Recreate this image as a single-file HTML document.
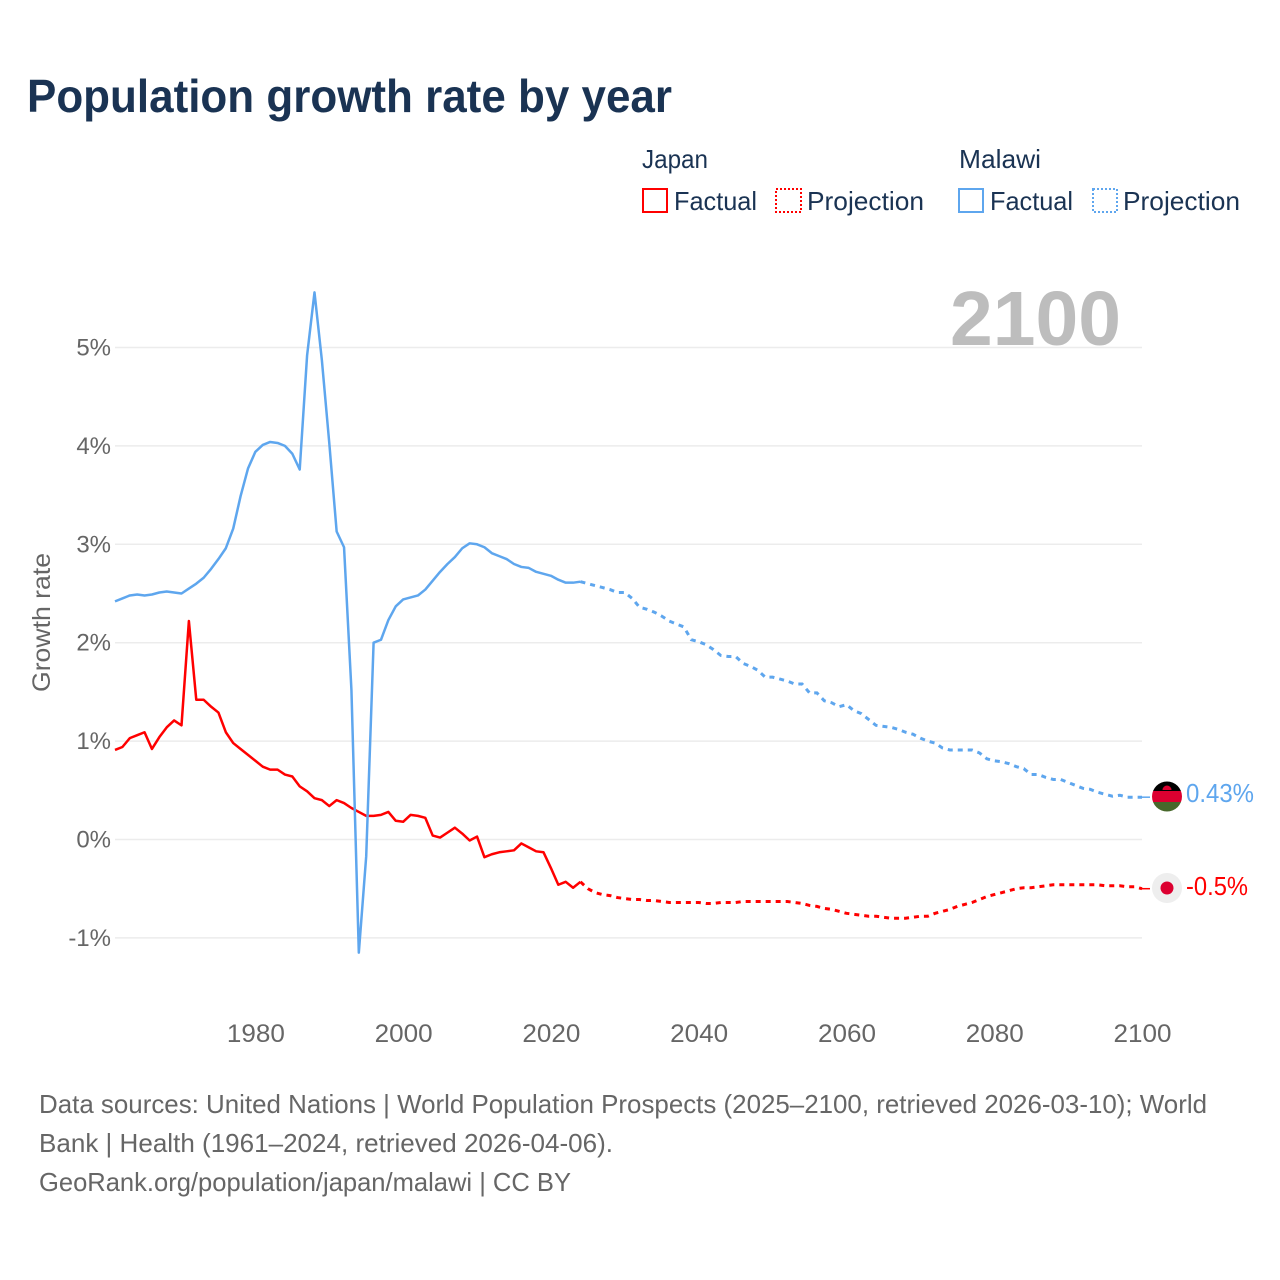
<!DOCTYPE html>
<html lang="en">
<head>
<meta charset="utf-8">
<title>Population growth rate by year</title>
<style>
  html, body { margin: 0; padding: 0; background: #ffffff; }
  svg { display: block; font-family: "Liberation Sans", sans-serif; }
</style>
</head>
<body>
<svg id="chart" width="1280" height="1280" viewBox="0 0 1280 1280" xmlns="http://www.w3.org/2000/svg">
  <defs>
    <clipPath id="flag-clip"><circle cx="1167" cy="796.5" r="15"></circle></clipPath>
  </defs>
  <rect x="0" y="0" width="1280" height="1280" fill="#ffffff"></rect>

  <text x="27" y="112" font-size="46" font-weight="700" fill="#1a3353" textLength="645" lengthAdjust="spacingAndGlyphs">Population growth rate by year</text>

  <g font-size="26" fill="#1a3353">
    <text x="642" y="168" textLength="66" lengthAdjust="spacingAndGlyphs">Japan</text>
    <text x="959" y="168" textLength="82" lengthAdjust="spacingAndGlyphs">Malawi</text>

    <g>
      <rect x="643" y="189" width="24" height="23" fill="none" stroke="#ff0000" stroke-width="2"></rect>
      <text x="674" y="210" textLength="83" lengthAdjust="spacingAndGlyphs">Factual</text>
    </g>
    <g>
      <rect x="776" y="189" width="25" height="23" fill="none" stroke="#ff0000" stroke-width="2" stroke-dasharray="2 2"></rect>
      <text x="807" y="210" textLength="117" lengthAdjust="spacingAndGlyphs">Projection</text>
    </g>
    <g>
      <rect x="959" y="189" width="24" height="23" fill="none" stroke="#5ea6ee" stroke-width="2"></rect>
      <text x="990" y="210" textLength="83" lengthAdjust="spacingAndGlyphs">Factual</text>
    </g>
    <g>
      <rect x="1093" y="189" width="24" height="23" fill="none" stroke="#5ea6ee" stroke-width="2" stroke-dasharray="2 2"></rect>
      <text x="1123" y="210" textLength="117" lengthAdjust="spacingAndGlyphs">Projection</text>
    </g>
  </g>

  <g id="grid"></g>

  <text x="950" y="345" font-size="77" font-weight="700" fill="#bdbdbd" textLength="171" lengthAdjust="spacingAndGlyphs">2100</text>

  <g id="y-axis" font-size="24" fill="#666666"></g>
  <g id="x-axis" font-size="25" fill="#666666"></g>
  <text transform="translate(50,692) rotate(-90)" font-size="25" fill="#666666" textLength="139" lengthAdjust="spacingAndGlyphs">Growth rate</text>

  <g id="series"></g>

  <g clip-path="url(#flag-clip)">
    <rect x="1150" y="780" width="34" height="11" fill="#000000"></rect>
    <rect x="1150" y="791" width="34" height="11" fill="#dc0030"></rect>
    <rect x="1150" y="802" width="34" height="11" fill="#47682b"></rect>
    <path d="M1162.5 790 a4.5 4.5 0 0 1 9 0 z" fill="#dc0030"></path>
  </g>
  <g>
    <circle cx="1167" cy="888" r="15" fill="#eeeeee"></circle>
    <circle cx="1167" cy="888" r="6.5" fill="#dc0030"></circle>
  </g>

  <text x="1186" y="802" font-size="26" fill="#5ea6ee" textLength="68" lengthAdjust="spacingAndGlyphs">0.43%</text>
  <text x="1186" y="895" font-size="26" fill="#ff0000" textLength="62" lengthAdjust="spacingAndGlyphs">-0.5%</text>

  <g font-size="26" fill="#666666">
    <text x="39" y="1113" textLength="1168" lengthAdjust="spacingAndGlyphs">Data sources: United Nations | World Population Prospects (2025–2100, retrieved 2026-03-10); World</text>
    <text x="39" y="1152" textLength="574" lengthAdjust="spacingAndGlyphs">Bank | Health (1961–2024, retrieved 2026-04-06).</text>
    <text x="39" y="1191" textLength="532" lengthAdjust="spacingAndGlyphs">GeoRank.org/population/japan/malawi | CC BY</text>
  </g>
</svg>

<script>
const firstYear = 1961;
const xTickYears = [1980, 2000, 2020, 2040, 2060, 2080, 2100];
const yTickValues = [-1, 0, 1, 2, 3, 4, 5];

const malawiFactual = [
  2.42, 2.45, 2.48, 2.49, 2.48, 2.49, 2.51, 2.52, 2.51, 2.50,
  2.55, 2.60, 2.66, 2.75, 2.85, 2.96, 3.16, 3.49, 3.77, 3.94,
  4.01, 4.04, 4.03, 4.00, 3.92, 3.76, 4.92, 5.56, 4.87, 4.03,
  3.13, 2.97, 1.52, -1.15, -0.17, 2.00, 2.03, 2.23, 2.37, 2.44,
  2.46, 2.48, 2.54, 2.63, 2.72, 2.80, 2.87, 2.96, 3.01, 3.00,
  2.97, 2.91, 2.88, 2.85, 2.80, 2.77, 2.76, 2.72, 2.70, 2.68,
  2.64, 2.61, 2.61, 2.62
];
const malawiProjection = [
  2.60, 2.58, 2.56, 2.54, 2.51, 2.51, 2.45, 2.36, 2.34, 2.31,
  2.27, 2.22, 2.19, 2.16, 2.03, 2.01, 1.98, 1.93, 1.87, 1.86,
  1.86, 1.79, 1.76, 1.72, 1.65, 1.65, 1.63, 1.61, 1.58, 1.58,
  1.49, 1.49, 1.41, 1.39, 1.35, 1.37, 1.31, 1.28, 1.22, 1.16,
  1.15, 1.14, 1.12, 1.09, 1.07, 1.03, 1.00, 0.98, 0.93, 0.91,
  0.91, 0.91, 0.91, 0.88, 0.82, 0.80, 0.79, 0.77, 0.74, 0.72,
  0.66, 0.66, 0.63, 0.61, 0.61, 0.58, 0.55, 0.52, 0.51, 0.48,
  0.46, 0.44, 0.45, 0.43, 0.43, 0.43
];
const japanFactual = [
  0.91, 0.94, 1.03, 1.06, 1.09, 0.92, 1.04, 1.14, 1.21, 1.16,
  2.22, 1.42, 1.42, 1.35, 1.29, 1.09, 0.98, 0.92, 0.86, 0.80,
  0.74, 0.71, 0.71, 0.66, 0.64, 0.54, 0.49, 0.42, 0.40, 0.34,
  0.40, 0.37, 0.32, 0.28, 0.24, 0.24, 0.25, 0.28, 0.19, 0.18,
  0.25, 0.24, 0.22, 0.04, 0.02, 0.07, 0.12, 0.06, -0.01, 0.03,
  -0.18, -0.15, -0.13, -0.12, -0.11, -0.04, -0.08, -0.12, -0.13, -0.29,
  -0.46, -0.43, -0.49, -0.43
];
const japanProjection = [
  -0.50, -0.54, -0.56, -0.57, -0.59, -0.60, -0.61, -0.61, -0.62, -0.62,
  -0.63, -0.64, -0.64, -0.64, -0.64, -0.64, -0.65, -0.65, -0.64, -0.64,
  -0.64, -0.63, -0.63, -0.63, -0.63, -0.63, -0.63, -0.63, -0.64, -0.65,
  -0.67, -0.68, -0.70, -0.71, -0.73, -0.75, -0.76, -0.77, -0.78, -0.78,
  -0.79, -0.80, -0.80, -0.80, -0.79, -0.78, -0.78, -0.75, -0.73, -0.71,
  -0.68, -0.66, -0.64, -0.61, -0.58, -0.56, -0.54, -0.52, -0.50, -0.49,
  -0.49, -0.48, -0.47, -0.46, -0.46, -0.46, -0.46, -0.46, -0.46, -0.46,
  -0.47, -0.47, -0.47, -0.48, -0.48, -0.50
];

const SVG_NS = 'http://www.w3.org/2000/svg';
const PLOT_LEFT = 115;
const PLOT_RIGHT = 1142;
const LAST_YEAR = 2100;
const ZERO_Y = 839.5;
const PX_PER_PERCENT = 98.4;
const RED = '#ff0000';
const BLUE = '#5ea6ee';

function xScale(year) {
  return PLOT_LEFT + (year - firstYear) * (PLOT_RIGHT - PLOT_LEFT) / (LAST_YEAR - firstYear);
}
function yScale(value) {
  return ZERO_Y - value * PX_PER_PERCENT;
}
function makeEl(tag, parent, attrs, text) {
  const el = document.createElementNS(SVG_NS, tag);
  Object.keys(attrs).forEach(function (k) { el.setAttribute(k, attrs[k]); });
  if (text !== undefined) el.textContent = text;
  parent.appendChild(el);
  return el;
}
function pathFrom(values, startYear) {
  return values.map(function (v, i) {
    return (i === 0 ? 'M' : 'L') + xScale(startYear + i).toFixed(2) + ' ' + yScale(v).toFixed(2);
  }).join(' ');
}

const gridGroup = document.getElementById('grid');
const yAxisGroup = document.getElementById('y-axis');
const xAxisGroup = document.getElementById('x-axis');
const seriesGroup = document.getElementById('series');

yTickValues.forEach(function (v) {
  const line = makeEl('line', gridGroup, {
    x1: PLOT_LEFT, x2: PLOT_RIGHT, y1: yScale(v), y2: yScale(v),
    stroke: '#ececec', 'stroke-width': 1.5
  });
  
  
  const label = makeEl('text', yAxisGroup, {
    x: 111, y: yScale(v) + 8, 'text-anchor': 'end'
  }, v + '%');
  
  
});

xTickYears.forEach(function (year) {
  const label = makeEl('text', xAxisGroup, {
    x: xScale(year) - 28.5, y: 1042, textLength: 58, lengthAdjust: 'spacingAndGlyphs'
  }, String(year));
  
  
});

function drawSeries(factual, projection, color, key) {
  const solid = makeEl('path', seriesGroup, {
    d: pathFrom(factual, firstYear), fill: 'none', stroke: color,
    'stroke-width': 2.5, 'stroke-linejoin': 'round'
  });
  
  

  const lastFactualYear = firstYear + factual.length - 1;
  const joined = [factual[factual.length - 1]].concat(projection);
  const dashed = makeEl('path', seriesGroup, {
    d: pathFrom(joined, lastFactualYear), fill: 'none', stroke: color,
    'stroke-width': 3, 'stroke-dasharray': '5 5'
  });
  
  

  const endValue = projection[projection.length - 1];
  const connector = makeEl('line', seriesGroup, {
    x1: xScale(LAST_YEAR) - 1, x2: xScale(LAST_YEAR) + 8,
    y1: yScale(endValue), y2: yScale(endValue),
    stroke: color, 'stroke-width': 1.5
  });
  
  
}

drawSeries(japanFactual, japanProjection, RED, 'japan');
drawSeries(malawiFactual, malawiProjection, BLUE, 'malawi');
</script>
</body>
</html>
